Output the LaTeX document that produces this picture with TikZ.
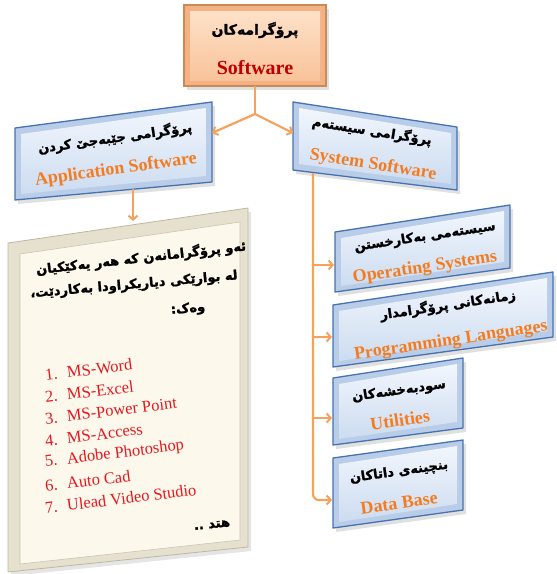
\documentclass[tikz,border=0pt]{standalone}
\usepackage{fontspec}
\setmainfont{Liberation Serif}
\newfontfamily\kub[Script=Arabic,FakeBold=1.6]{DejaVu Sans Bold}
\TeXXeTstate=1
\usetikzlibrary{arrows.meta,calc}
\definecolor{peachOuter}{HTML}{F4B183}
\definecolor{peachBorder}{HTML}{C98A55}
\definecolor{peachTop}{HTML}{FDE1C8}
\definecolor{peachBot}{HTML}{F9C39A}
\definecolor{blueOuter}{HTML}{B9CDE8}
\definecolor{blueBorder}{HTML}{4572B0}
\definecolor{blueTop}{HTML}{F2F6FC}
\definecolor{blueBot}{HTML}{CCDCF1}
\definecolor{creamOuter}{HTML}{E6E1CE}
\definecolor{creamBorder}{HTML}{BDB79F}
\definecolor{creamInner}{HTML}{FCF9EC}
\definecolor{orangeT}{HTML}{F47C20}
\definecolor{connC}{HTML}{F5A25D}
\definecolor{redT}{HTML}{C00000}
\definecolor{listRed}{HTML}{E5171F}

\newcommand{\mybluebox}[7]{%
  \fill[black,opacity=0.12] (#2+3,#3+4) -- (#4+3,#5+4) -- (#4+3,#6+4) -- (#2+3,#7+4) -- cycle;
  \filldraw[fill=blueOuter,draw=blueBorder,line width=1.3pt,line join=round]
    (#2,#3) coordinate (#1-tl) -- (#4,#5) coordinate (#1-tr) -- (#4,#6) coordinate (#1-br) -- (#2,#7) coordinate (#1-bl) -- cycle;
  \shade[top color=blueTop,bottom color=blueBot] (#2+6,#3+6) -- (#4-6,#5+6) -- (#4-6,#6-6) -- (#2+6,#7-6) -- cycle;
}

\begin{document}
\begin{tikzpicture}[x=1pt,y=-1pt,
  ar/.style={font=\kub\fontsize{13}{15}\selectfont, text=black, inner sep=0pt},
  en/.style={font=\bfseries\fontsize{18}{20}\selectfont, text=orangeT, inner sep=0pt},
  li/.style={font=\fontsize{16.5}{18}\selectfont, text=listRed, inner sep=0pt, anchor=west, rotate=7},
  kl/.style={font=\kub\fontsize{13}{15}\selectfont, text=black, inner sep=0pt},
  conn/.style={draw=connC, line width=2.2pt, line join=round},
  arr/.style={conn, -{Straight Barb[length=4pt,width=9pt,line width=2pt]}}
]
\useasboundingbox (0,0) rectangle (557,574);

% ---------- top box ----------
\fill[black,opacity=0.12] (187,9) rectangle (329,90);
\filldraw[fill=peachOuter,draw=peachBorder,line width=1.2pt] (184,5) rectangle (326,86);
\shade[top color=peachTop,bottom color=peachBot] (190,11) rectangle (320,80);
\node[ar,font=\kub\fontsize{14}{16}\selectfont] (topar) at (255,30) {\beginR پرۆگرامەکان\endR};
\node[en,text=redT,font=\bfseries\fontsize{20}{22}\selectfont] (topen) at (255,68) {Software};
\coordinate (top-out) at (255,86);

% ---------- second level ----------
\mybluebox{app}{15}{128}{212}{102}{182}{200}
\node[ar,rotate=8] (appar) at (115,138) {\beginR پرۆگرامی جێبەجێ کردن\endR};
\node[en,rotate=8] (appen) at (116,170) {Application Software};

\mybluebox{sys}{293}{102}{457}{127}{190}{170}
\node[ar,rotate=-9] (sysar) at (372,131) {\beginR پرۆگرامی سیستەم\endR};
\node[en,rotate=-9] (sysen) at (373,165) {System Software};

% ---------- system children ----------
\mybluebox{os}{335}{232}{510}{205}{268}{292}
\node[ar,rotate=8.5] (osar) at (425,237) {\beginR سیستەمی بەکارخستن\endR};
\node[en,rotate=8.5] (osen) at (425,268) {Operating Systems};

\mybluebox{pl}{333}{305}{553}{272}{337}{367}
\node[ar,rotate=8.5] (plar) at (448,305) {\beginR زمانەکانی پرۆگرامدار\endR};
\node[en,rotate=8.5] (plen) at (451,341) {Programming Languages};

\mybluebox{ut}{333}{378}{463}{358}{428}{445}
\node[ar,rotate=8] (utar) at (399,391) {\beginR سودبەخشەکان\endR};
\node[en,rotate=8] (uten) at (400,420) {Utilities};

\mybluebox{db}{333}{458}{463}{440}{510}{528}
\node[ar,rotate=8] (dbar) at (399,472) {\beginR بنچینەی داتاکان\endR};
\node[en,rotate=8] (dben) at (399,503) {Data Base};

% ---------- cream box ----------
\fill[black,opacity=0.10] (11,247) -- (251,212) -- (251,551) -- (11,576) -- cycle;
\filldraw[fill=creamOuter,draw=creamBorder,line width=0.8pt] (8,243) -- (248,208) -- (248,547) -- (8,572) -- cycle;
\filldraw[fill=creamInner,draw=creamBorder!80,line width=0.6pt] (20,254) -- (240,222) -- (240,540) -- (20,564) -- cycle;

\node[kl,rotate=6.5] (k1) at (141,258) {\beginR ئەو پرۆگرامانەن کە هەر یەکێکیان\endR};
\node[kl,rotate=5] (k2) at (134,285) {\beginR لە بوارێکی دیاریکراودا بەکاردێت،\endR};
\node[kl,rotate=5] (k3) at (188,309) {\beginR وەک:\endR};

\node[li] (l1) at (45,375) {\makebox[22pt][l]{1.}MS-Word};
\node[li] (l2) at (45,397) {\makebox[22pt][l]{2.}MS-Excel};
\node[li] (l3) at (45,419) {\makebox[22pt][l]{3.}MS-Power Point};
\node[li] (l4) at (45,441) {\makebox[22pt][l]{4.}MS-Access};
\node[li] (l5) at (45,463) {\makebox[22pt][l]{5.}Adobe Photoshop};
\node[li] (l6) at (45,486) {\makebox[22pt][l]{6.}Auto Cad};
\node[li] (l7) at (45,508) {\makebox[22pt][l]{7.}Ulead Video Studio};
\node[ar,rotate=6] (etc) at (212,525) {\beginR هتد ..\endR};

% ---------- connectors ----------
\coordinate (J) at (255,114);
\coordinate (app-in) at (212,133);
\coordinate (sys-in) at (293,133);
\coordinate (app-out) at (133,189);
\coordinate (cream-in) at (133,221);
\coordinate (sys-out) at (313,173);
\coordinate (os-in) at (334,265);
\coordinate (pl-in) at (332,337);
\coordinate (ut-in) at (332,418);
\coordinate (db-in) at (332,500);

\draw[conn] (top-out) -- (J);
\draw[arr] (J) -- (app-in);
\draw[arr] (J) -- (sys-in);
\draw[arr] (app-out) -- (cream-in);
\draw[arr,rounded corners=6pt] (sys-out) -- (sys-out |- db-in) -- (db-in);
\draw[arr] (sys-out |- os-in) -- (os-in);
\draw[arr] (sys-out |- pl-in) -- (pl-in);
\draw[arr] (sys-out |- ut-in) -- (ut-in);
\end{tikzpicture}
\end{document}
